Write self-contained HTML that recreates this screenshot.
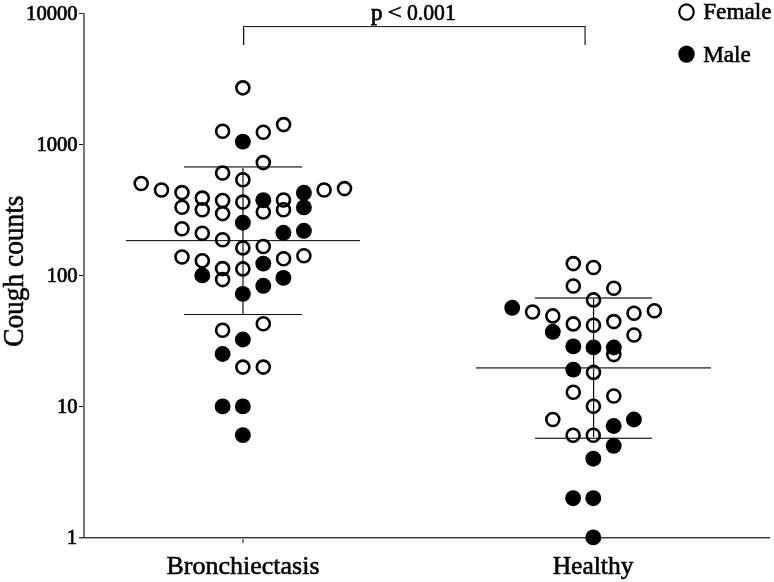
<!DOCTYPE html>
<html><head><meta charset="utf-8"><style>
html,body{margin:0;padding:0;background:#fff;}
svg{display:block;filter:grayscale(1);}
text{font-family:"Liberation Serif",serif;fill:#000;}
</style></head><body>
<svg width="774" height="582" viewBox="0 0 774 582">
<rect width="774" height="582" fill="#fff"/>
<rect x="83" y="13" width="2" height="525" fill="#767676"/><rect x="79" y="13" width="4" height="1" fill="#2a2a2a"/><rect x="79" y="12" width="4" height="1" fill="#e8e8e8"/><rect x="79" y="144" width="4" height="1" fill="#111"/><rect x="79" y="275" width="4" height="1" fill="#111"/><rect x="79" y="406" width="4" height="1" fill="#111"/><rect x="79" y="537" width="691" height="1" fill="#383838"/><rect x="79" y="538" width="691" height="1" fill="#aaaaaa"/><rect x="242" y="539" width="2" height="4" fill="#808080"/><rect x="593" y="539" width="1" height="4" fill="#333"/><rect x="242" y="168" width="2" height="146" fill="#707070"/><rect x="184" y="166" width="118" height="1" fill="#606060"/><rect x="184" y="167" width="118" height="1" fill="#888888"/><rect x="126" y="240" width="234" height="1" fill="#222222"/><rect x="126" y="241" width="234" height="1" fill="#e0e0e0"/><rect x="184" y="314" width="118" height="1" fill="#111111"/><rect x="593" y="299" width="1" height="139" fill="#080808"/><rect x="594" y="299" width="1" height="138" fill="#d0d0d0"/><rect x="535" y="297" width="117" height="2" fill="#6e6e6e"/><rect x="476" y="367" width="235" height="1" fill="#5c5c5c"/><rect x="476" y="368" width="235" height="1" fill="#8a8a8a"/><rect x="535" y="437" width="117" height="1" fill="#b0b0b0"/><rect x="535" y="438" width="117" height="1" fill="#383838"/><rect x="243" y="26" width="343" height="1" fill="#222222"/><rect x="244" y="27" width="340" height="1" fill="#e6e6e6"/><rect x="243" y="27" width="1" height="18" fill="#0e0e0e"/><rect x="244" y="28" width="1" height="17" fill="#c0c0c0"/><rect x="584" y="27" width="1" height="18" fill="#8a8a8a"/><rect x="585" y="26" width="1" height="19" fill="#666666"/>
<g fill="none" stroke="#000" stroke-width="2.6"><circle cx="242.85" cy="87.85" r="6.5"/><circle cx="222.6" cy="131.2" r="6.5"/><circle cx="263.3" cy="132.3" r="6.5"/><circle cx="283.6" cy="124.6" r="6.5"/><circle cx="263.3" cy="162.6" r="6.5"/><circle cx="141.2" cy="183.5" r="6.5"/><circle cx="161.5" cy="190.0" r="6.5"/><circle cx="182.0" cy="192.6" r="6.5"/><circle cx="182.0" cy="207.3" r="6.5"/><circle cx="202.3" cy="198.1" r="6.5"/><circle cx="202.3" cy="209.7" r="6.5"/><circle cx="222.6" cy="173.0" r="6.5"/><circle cx="222.6" cy="200.5" r="6.5"/><circle cx="222.6" cy="213.6" r="6.5"/><circle cx="182.0" cy="228.7" r="6.5"/><circle cx="202.3" cy="233.2" r="6.5"/><circle cx="222.6" cy="239.7" r="6.5"/><circle cx="242.85" cy="179.7" r="6.5"/><circle cx="242.85" cy="202.1" r="6.5"/><circle cx="263.3" cy="211.9" r="6.5"/><circle cx="283.5" cy="200.0" r="6.5"/><circle cx="283.5" cy="209.8" r="6.5"/><circle cx="324.1" cy="190.0" r="6.5"/><circle cx="344.5" cy="188.6" r="6.5"/><circle cx="182.0" cy="257.0" r="6.5"/><circle cx="202.3" cy="260.7" r="6.5"/><circle cx="222.6" cy="268.6" r="6.5"/><circle cx="222.6" cy="279.6" r="6.5"/><circle cx="242.85" cy="247.9" r="6.5"/><circle cx="242.85" cy="268.9" r="6.5"/><circle cx="263.3" cy="246.5" r="6.5"/><circle cx="283.6" cy="258.7" r="6.5"/><circle cx="303.9" cy="255.7" r="6.5"/><circle cx="222.6" cy="330.2" r="6.5"/><circle cx="263.3" cy="323.7" r="6.5"/><circle cx="242.85" cy="367.1" r="6.5"/><circle cx="263.3" cy="367.1" r="6.5"/><circle cx="573.3" cy="263.6" r="6.5"/><circle cx="593.5" cy="267.5" r="6.5"/><circle cx="573.3" cy="286.0" r="6.5"/><circle cx="613.8" cy="288.3" r="6.5"/><circle cx="593.5" cy="299.9" r="6.5"/><circle cx="532.6" cy="312.0" r="6.5"/><circle cx="552.8" cy="315.9" r="6.5"/><circle cx="573.3" cy="323.9" r="6.5"/><circle cx="593.5" cy="325.3" r="6.5"/><circle cx="613.8" cy="321.6" r="6.5"/><circle cx="634.0" cy="313.3" r="6.5"/><circle cx="654.4" cy="310.8" r="6.5"/><circle cx="634.0" cy="335.0" r="6.5"/><circle cx="613.8" cy="354.6" r="6.5"/><circle cx="593.5" cy="372.4" r="6.5"/><circle cx="573.3" cy="392.3" r="6.5"/><circle cx="613.8" cy="396.0" r="6.5"/><circle cx="593.4" cy="406.3" r="6.5"/><circle cx="552.8" cy="419.5" r="6.5"/><circle cx="573.1" cy="435.3" r="6.5"/><circle cx="593.3" cy="435.3" r="6.5"/></g>
<g fill="#000"><circle cx="242.85" cy="141.6" r="7.95"/><circle cx="263.3" cy="200.2" r="7.95"/><circle cx="303.9" cy="192.8" r="7.95"/><circle cx="303.9" cy="207.4" r="7.95"/><circle cx="242.85" cy="222.7" r="7.95"/><circle cx="283.4" cy="232.8" r="7.95"/><circle cx="303.9" cy="230.8" r="7.95"/><circle cx="202.3" cy="275.4" r="7.95"/><circle cx="242.85" cy="293.9" r="7.95"/><circle cx="263.3" cy="263.6" r="7.95"/><circle cx="283.4" cy="277.9" r="7.95"/><circle cx="263.3" cy="285.8" r="7.95"/><circle cx="242.85" cy="339.5" r="7.95"/><circle cx="222.6" cy="354.0" r="7.95"/><circle cx="222.6" cy="406.4" r="7.95"/><circle cx="242.85" cy="406.4" r="7.95"/><circle cx="242.85" cy="435.15" r="7.95"/><circle cx="512.2" cy="307.8" r="7.95"/><circle cx="552.8" cy="331.8" r="7.95"/><circle cx="573.3" cy="346.4" r="7.95"/><circle cx="593.5" cy="347.4" r="7.95"/><circle cx="613.8" cy="347.5" r="7.95"/><circle cx="573.3" cy="369.6" r="7.95"/><circle cx="613.7" cy="426.0" r="7.95"/><circle cx="633.9" cy="419.5" r="7.95"/><circle cx="613.7" cy="445.8" r="7.95"/><circle cx="593.3" cy="458.7" r="7.95"/><circle cx="573.1" cy="498.2" r="7.95"/><circle cx="593.3" cy="498.2" r="7.95"/><circle cx="593.3" cy="537.4" r="7.95"/></g>
<g font-size="20.6" text-anchor="end" stroke="#000" stroke-width="0.7">
<text x="77.6" y="19.8">10000</text>
<text x="77.6" y="150.6">1000</text>
<text x="77.6" y="281.7">100</text>
<text x="77.6" y="412.7">10</text>
<text x="77.1" y="544.0">1</text>
</g>
<g stroke="#000" stroke-width="0.4">
<text x="243" y="574.2" font-size="26" text-anchor="middle" stroke-width="0.55">Bronchiectasis</text>
<text x="593.1" y="574.2" font-size="26" text-anchor="middle" textLength="80.8" lengthAdjust="spacingAndGlyphs" stroke-width="0.6">Healthy</text>
<text x="371.0" y="20.2" font-size="23" stroke-width="0.75">p</text>
<text x="0" y="0" font-size="23" stroke-width="0.6" transform="translate(387.5,19.45) scale(1.11,0.89)">&lt;</text>
<text x="407.0" y="20.2" font-size="24" textLength="48.8" lengthAdjust="spacingAndGlyphs" stroke-width="0.65">0.001</text>
<text x="703.2" y="19" font-size="23.2" stroke-width="0.6">Female</text>
<text x="703.2" y="61.5" font-size="23.2" stroke-width="0.6">Male</text>
<text transform="translate(23.4,271.2) rotate(-90)" font-size="29" text-anchor="middle" textLength="151.3" lengthAdjust="spacingAndGlyphs" stroke-width="0.55">Cough counts</text>
</g>
<ellipse cx="686.5" cy="12.05" rx="7.25" ry="7.65" fill="none" stroke="#000" stroke-width="2.1"/>
<ellipse cx="686.5" cy="54.05" rx="8.25" ry="8.6" fill="#000"/>
</svg>
</body></html>
